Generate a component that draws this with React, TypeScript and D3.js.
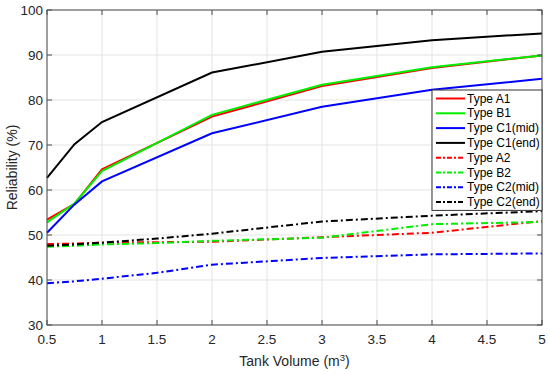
import React, { useRef, useEffect } from "react";
import * as d3 from "d3";

// tank volumes (m^3)
const volumes = [0.5, 0.75, 1, 2, 3, 4, 5];
const volumesDash = [0.5, 0.75, 1, 1.5, 2, 3, 4, 5];

const seriesNames = [
  "Type A1",
  "Type B1",
  "Type C1(mid)",
  "Type C1(end)",
  "Type A2",
  "Type B2",
  "Type C2(mid)",
  "Type C2(end)",
];
const seriesColors = ["#ff0000", "#00ee00", "#0000ff", "#000000", "#ff0000", "#00ee00", "#0000ff", "#000000"];
const seriesDashed = [false, false, false, false, true, true, true, true];

// reliability (%)
const typeA1 = [53.4, 56.9, 64.6, 76.3, 83.1, 87.1, 89.9];
const typeB1 = [52.8, 57.0, 64.2, 76.7, 83.4, 87.3, 89.9];
const typeC1mid = [50.5, 56.8, 61.9, 72.6, 78.5, 82.3, 84.7];
const typeC1end = [62.7, 70.2, 75.1, 86.1, 90.7, 93.3, 94.8];
const typeA2 = [48.0, 48.1, 48.3, 48.4, 48.5, 49.5, 50.5, 53.1];
const typeB2 = [47.4, 47.6, 47.9, 48.2, 48.7, 49.4, 52.4, 52.9];
const typeC2mid = [39.3, 39.7, 40.3, 41.6, 43.4, 44.9, 45.7, 45.9];
const typeC2end = [47.6, 47.9, 48.3, 49.2, 50.3, 53.0, 54.3, 55.3];

const seriesValues = [typeA1, typeB1, typeC1mid, typeC1end, typeA2, typeB2, typeC2mid, typeC2end];

const xTicks = [0.5, 1, 1.5, 2, 2.5, 3, 3.5, 4, 4.5, 5];
const yTicks = [30, 40, 50, 60, 70, 80, 90, 100];

export default function App() {
  const ref = useRef<SVGSVGElement | null>(null);

  useEffect(() => {
    const svg = d3.select(ref.current);
    svg.selectAll("*").remove();

    const width = 550;
    const height = 374;
    const margin = { top: 10, right: 8, bottom: 49, left: 47 };
    const font = "'Liberation Sans', Arial, Helvetica, sans-serif";
    const axisColor = "#4d4d4d";

    const x = d3.scaleLinear().domain([0.5, 5]).range([margin.left, width - margin.right]);
    const y = d3.scaleLinear().domain([30, 100]).range([height - margin.bottom, margin.top]);

    const g = svg.append("g");

    // grid
    g.selectAll("line.gx")
      .data(xTicks)
      .enter()
      .append("line")
      .attr("x1", (d) => x(d))
      .attr("x2", (d) => x(d))
      .attr("y1", y(30))
      .attr("y2", y(100))
      .attr("stroke", "#e3e3e3")
      .attr("stroke-width", 1);

    g.selectAll("line.gy")
      .data(yTicks)
      .enter()
      .append("line")
      .attr("x1", x(0.5))
      .attr("x2", x(5))
      .attr("y1", (d) => y(d))
      .attr("y2", (d) => y(d))
      .attr("stroke", "#e3e3e3")
      .attr("stroke-width", 1);

    // lines
    const line = d3
      .line<[number, number]>()
      .x((d) => x(d[0]))
      .y((d) => y(d[1]));

    seriesValues.forEach((vals, i) => {
      const xs = seriesDashed[i] ? volumesDash : volumes;
      const pts: [number, number][] = vals.map((v, j) => [xs[j], v]);
      g.append("path")
        .datum(pts)
        .attr("d", line)
        .attr("fill", "none")
        .attr("stroke", seriesColors[i])
        .attr("stroke-width", 2)
        .attr("stroke-dasharray", seriesDashed[i] ? "7,3,2,3" : null);
    });

    // box
    g.append("rect")
      .attr("x", x(0.5))
      .attr("y", y(100))
      .attr("width", x(5) - x(0.5))
      .attr("height", y(30) - y(100))
      .attr("fill", "none")
      .attr("stroke", axisColor)
      .attr("stroke-width", 1);

    // ticks (inside)
    xTicks.forEach((t) => {
      g.append("line")
        .attr("x1", x(t)).attr("x2", x(t))
        .attr("y1", y(30)).attr("y2", y(30) - 5)
        .attr("stroke", axisColor);
      g.append("line")
        .attr("x1", x(t)).attr("x2", x(t))
        .attr("y1", y(100)).attr("y2", y(100) + 5)
        .attr("stroke", axisColor);
      g.append("text")
        .attr("x", x(t))
        .attr("y", y(30) + 18.5)
        .attr("text-anchor", "middle")
        .attr("font-family", font)
        .attr("font-size", 13.5)
        .attr("fill", "#262626")
        .text(t);
    });

    yTicks.forEach((t) => {
      g.append("line")
        .attr("x1", x(0.5)).attr("x2", x(0.5) + 5)
        .attr("y1", y(t)).attr("y2", y(t))
        .attr("stroke", axisColor);
      g.append("line")
        .attr("x1", x(5)).attr("x2", x(5) - 5)
        .attr("y1", y(t)).attr("y2", y(t))
        .attr("stroke", axisColor);
      g.append("text")
        .attr("x", x(0.5) - 4)
        .attr("y", y(t) + 5)
        .attr("text-anchor", "end")
        .attr("font-family", font)
        .attr("font-size", 13.5)
        .attr("fill", "#262626")
        .text(t);
    });

    // axis labels
    const xl = g.append("text")
      .attr("x", (x(0.5) + x(5)) / 2)
      .attr("y", 366)
      .attr("text-anchor", "middle")
      .attr("font-family", font)
      .attr("font-size", 14)
      .attr("fill", "#262626");
    xl.append("tspan").text("Tank Volume (m");
    xl.append("tspan").attr("dy", -5).attr("font-size", 9.5).text("3");
    xl.append("tspan").attr("dy", 5).text(")");

    g.append("text")
      .attr("transform", `translate(17,${(y(30) + y(100)) / 2}) rotate(-90)`)
      .attr("text-anchor", "middle")
      .attr("font-family", font)
      .attr("font-size", 14)
      .attr("fill", "#262626")
      .text("Reliability (%)");

    // legend
    const lx = 432;
    const ly = 90;
    const lw = 110;
    const rowH = 14.8;
    const legend = g.append("g");
    legend.append("rect")
      .attr("x", lx)
      .attr("y", ly)
      .attr("width", lw)
      .attr("height", rowH * seriesNames.length + 2)
      .attr("fill", "#ffffff")
      .attr("stroke", "#333")
      .attr("stroke-width", 1);

    seriesNames.forEach((name, i) => {
      const cy = ly + 8.5 + i * rowH;
      legend.append("line")
        .attr("x1", lx + 4)
        .attr("x2", lx + 33)
        .attr("y1", cy)
        .attr("y2", cy)
        .attr("stroke", seriesColors[i])
        .attr("stroke-width", 2)
        .attr("stroke-dasharray", seriesDashed[i] ? "5,2,2,2" : null);
      legend.append("text")
        .attr("x", lx + 35)
        .attr("y", cy + 4)
        .attr("font-family", font)
        .attr("font-size", 12)
        .attr("fill", "#000")
        .text(name);
    });
  }, []);

  return (
    <div style={{ position: "absolute", left: 0, top: 0 }}>
      <svg ref={ref} width={550} height={374} style={{ display: "block", background: "#fff" }} />
    </div>
  );
}
